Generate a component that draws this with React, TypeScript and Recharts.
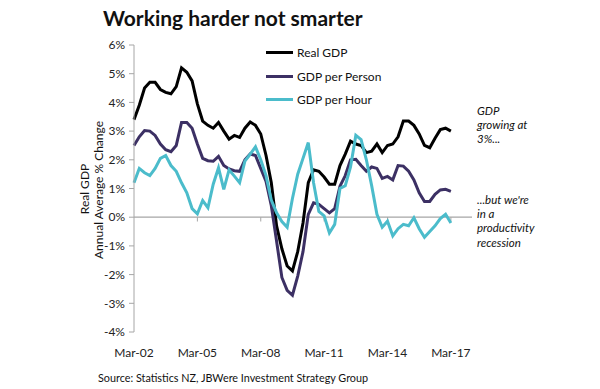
import type { ReactElement } from "react";
import { LineChart, Line, XAxis, YAxis, ReferenceLine, Legend } from "recharts";

// Quarterly, Mar-02 .. Mar-17 (annual average % change)
const realGdp = [
  3.4, 3.9, 4.5, 4.7, 4.7, 4.45, 4.35, 4.3, 4.55, 5.2, 5.05, 4.75, 3.95, 3.35, 3.2, 3.1,
  3.3, 3.0, 2.72, 2.85, 2.78, 3.1, 3.32, 3.2, 2.9, 2.15, 1.2, -0.3, -1.1, -1.7, -1.87,
  -1.2, -0.2, 1.2, 1.65, 1.6, 1.4, 1.15, 1.15, 1.8, 2.2, 2.65, 2.55, 2.5, 2.25, 2.3,
  2.55, 2.25, 2.5, 2.55, 2.8, 3.35, 3.35, 3.2, 2.9, 2.5, 2.42, 2.75, 3.05, 3.1, 3.0,
];
const gdpPerPerson = [
  2.5, 2.8, 3.02, 3.0, 2.85, 2.55, 2.35, 2.28, 2.5, 3.3, 3.3, 3.1, 2.55, 2.05, 1.97, 1.95,
  2.12, 1.8, 1.68, 1.62, 1.6, 2.0, 2.2, 2.15, 1.7, 1.25, 0.4, -0.84, -2.1, -2.55, -2.72,
  -2.05, -1.2, 0.1, 0.5, 0.45, 0.3, 0.15, 0.3, 1.08, 1.45, 2.0, 2.02, 1.8, 1.6, 1.75,
  1.7, 1.35, 1.42, 1.3, 1.8, 1.78, 1.6, 1.3, 0.85, 0.55, 0.55, 0.8, 0.95, 0.97, 0.9,
];
const gdpPerHour = [
  1.2, 1.7, 1.55, 1.45, 1.7, 2.05, 2.15, 1.8, 1.6, 1.2, 0.85, 0.3, 0.12, 0.58, 0.33, 1.15,
  1.72, 0.97, 1.65, 1.43, 1.2, 1.95, 2.2, 2.45, 2.0, 1.45, 0.6, 0.15, -0.15, -0.35, 0.65,
  1.5, 2.05, 2.6, 1.2, 0.2, 0.05, -0.55, -0.25, 1.0, 1.1, 1.75, 2.85, 2.7, 2.0, 1.1,
  0.1, -0.35, -0.14, -0.65, -0.4, -0.25, -0.3, -0.02, -0.4, -0.7, -0.5, -0.3, -0.05, 0.1, -0.2,
];

const seriesNames = ["Real GDP", "GDP per Person", "GDP per Hour"];
const tickLabels = ["Mar-02", "Mar-05", "Mar-08", "Mar-11", "Mar-14", "Mar-17"];
const quartersPerTick = 12;
const xMax = 64;
const yTicks = [-4, -3, -2, -1, 0, 1, 2, 3, 4, 5, 6];

const data = realGdp.map((v, i) => ({
  i,
  realGdp: v,
  perPerson: gdpPerPerson[i],
  perHour: gdpPerHour[i],
}));
const xTicks = tickLabels.map((_, k) => k * quartersPerTick);

const FONT = "Lato, 'Open Sans', sans-serif";
const AXIS = "#a6a6a6";

function LegendBox(props: any): ReactElement {
  const items = [...(props.payload || [])].sort(
    (a: any, b: any) => seriesNames.indexOf(a.value) - seriesNames.indexOf(b.value)
  );
  return (
    <div style={{ fontFamily: FONT, fontSize: 12, color: "#111" }}>
      {items.map((it: any) => (
        <div key={it.value} style={{ display: "flex", alignItems: "center", height: 23.5 }}>
          <span style={{ display: "inline-block", width: 27, height: 3, background: it.color, marginRight: 4 }} />
          <span>{it.value}</span>
        </div>
      ))}
    </div>
  );
}

export default function App(): ReactElement {
  return (
    <div style={{ position: "absolute", left: 0, top: 0, width: 600, height: 389, background: "#fff", fontFamily: FONT }}>
      <LineChart width={600} height={389} data={data} margin={{ top: 45, right: 128, bottom: 27, left: 84 }}>
        <XAxis
          type="number"
          dataKey="i"
          domain={[0, xMax]}
          ticks={xTicks}
          tickFormatter={(v: number) => tickLabels[v / quartersPerTick]}
          axisLine={false}
          tickLine={false}
          tickMargin={10}
          height={30}
          tick={{ fontSize: 12, fill: "#222", fontFamily: FONT }}
        />
        <YAxis
          domain={[-4, 6]}
          ticks={yTicks}
          tickFormatter={(v: number) => `${v}%`}
          width={50}
          stroke={AXIS}
          tickSize={5}
          tickMargin={4}
          tick={{ fontSize: 12, fill: "#222", fontFamily: FONT }}
        />
        <ReferenceLine y={0} stroke={AXIS} strokeWidth={1.2} />
        {xTicks.slice(1).map((x) => (
          <ReferenceLine key={x} segment={[{ x, y: 0 }, { x, y: -0.15 }]} stroke={AXIS} />
        ))}
        <Legend
          layout="vertical"
          verticalAlign="middle"
          align="center"
          wrapperStyle={{ left: 266, top: 41, width: 160 }}
          content={LegendBox}
        />
        <Line name={seriesNames[0]} dataKey="realGdp" stroke="#000000" strokeWidth={3} dot={false} isAnimationActive={false} />
        <Line name={seriesNames[1]} dataKey="perPerson" stroke="#3c3064" strokeWidth={3} dot={false} isAnimationActive={false} />
        <Line name={seriesNames[2]} dataKey="perHour" stroke="#4bbccb" strokeWidth={3} dot={false} isAnimationActive={false} />
      </LineChart>
      <svg width={600} height={389} style={{ position: "absolute", left: 0, top: 0, pointerEvents: "none" }} fontFamily={FONT}>
        <text x={103} y={26} fontSize={21} fontWeight={700} fill="#111">Working harder not smarter</text>
        <g fontSize={12} fill="#111" textAnchor="middle">
          <text transform="translate(89,189) rotate(-90)">Real GDP</text>
          <text transform="translate(103,190) rotate(-90)">Annual Average % Change</text>
        </g>
        <g fontSize={11.5} fontStyle="italic" fill="#111">
          <text x={477} y={115}>GDP</text>
          <text x={477} y={129}>growing at</text>
          <text x={477} y={143}>3%...</text>
          <text x={477} y={204}>...but we're</text>
          <text x={477} y={218}>in a</text>
          <text x={477} y={232}>productivity</text>
          <text x={477} y={247}>recession</text>
        </g>
        <text x={98} y={382} fontSize={10.8} fill="#111">Source: Statistics NZ, JBWere Investment Strategy Group</text>
      </svg>
    </div>
  );
}
